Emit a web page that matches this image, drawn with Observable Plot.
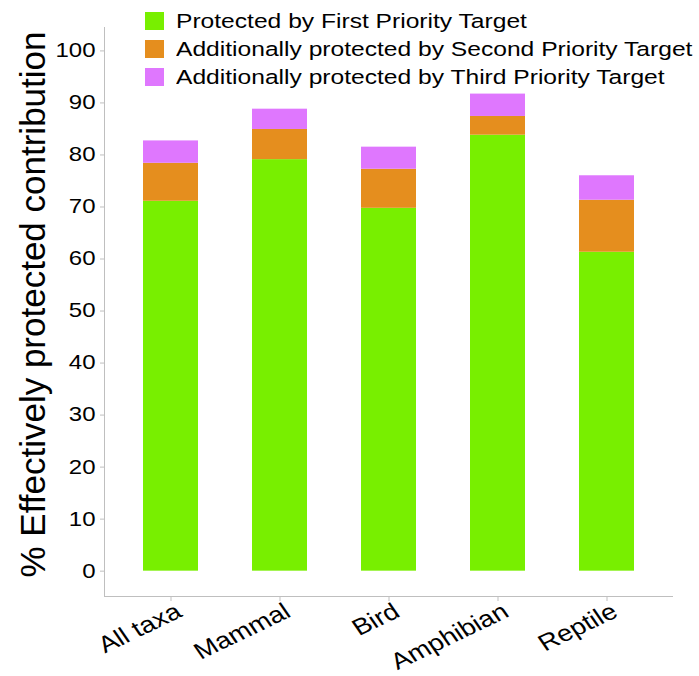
<!DOCTYPE html>
<html>
<head>
<meta charset="utf-8">
<script src="https://cdn.jsdelivr.net/npm/d3@7"></script>
<script src="https://cdn.jsdelivr.net/npm/@observablehq/plot@0.6"></script>
<style>
  body { margin: 0; background: #fff; font-family: "Liberation Sans", Arial, sans-serif; }
  #wrap { position: relative; width: 699px; height: 676px; }
  #legend { position: absolute; left: 145px; top: 7px; font-size: 20.5px; color: #000; }
  .item { display: flex; align-items: center; height: 28px; white-space: nowrap; }
  .sw { width: 19px; height: 18px; margin-right: 12px; flex: none; }
  .lab { display: inline-block; transform: scaleX(1.2); transform-origin: 0 50%; }
  #ytitle { position: absolute; left: 32px; top: 304px; width: 600px; height: 35px; line-height: 35px;
            margin-left: -300px; margin-top: -17.5px; text-align: center; font-size: 35px; color: #000;
            transform: rotate(-90deg); white-space: nowrap; }
</style>
</head>
<body>
<div id="wrap"><div id="chart"></div><div id="legend"></div><div id="ytitle"></div></div>
<script>
const taxa = ["All taxa", "Mammal", "Bird", "Amphibian", "Reptile"];
const seriesNames = [
  "Protected by First Priority Target",
  "Additionally protected by Second Priority Target",
  "Additionally protected by Third Priority Target"
];
const firstPriority  = [71.1, 79.1, 69.75, 83.8, 61.3];
const secondPriority = [7.3, 5.8, 7.5, 3.6, 10.0];
const thirdPriority  = [4.3, 3.9, 4.25, 4.3, 4.7];
const seriesColors = ["#78EF00", "#E58E1E", "#DF77FE"];
const yTicks = [0, 10, 20, 30, 40, 50, 60, 70, 80, 90, 100];
const yTitle = "% Effectively protected contribution";

const seriesValues = [firstPriority, secondPriority, thirdPriority];
const data = [];
seriesNames.forEach((s, si) => {
  taxa.forEach((t, ti) => data.push({ taxon: t, series: s, value: seriesValues[si][ti] }));
});

const axisGray = "#bfbfbf";
const chart = Plot.plot({
  width: 699,
  height: 676,
  marginLeft: 104,
  marginRight: 27,
  marginTop: 27,
  marginBottom: 80,
  style: { fontFamily: "'Liberation Sans', Arial, sans-serif", background: "#fff" },
  x: { domain: taxa, paddingInner: 0.5, paddingOuter: 0.353, label: null },
  y: { domain: [-4.87, 104.5], label: null },
  color: { domain: seriesNames, range: seriesColors },
  marks: [
    Plot.barY(data, { x: "taxon", y: "value", fill: "series" }),
    Plot.frame({ anchor: "left", stroke: axisGray }),
    Plot.frame({ anchor: "bottom", stroke: axisGray }),
    Plot.axisY({ ticks: yTicks, tickSize: 4, tickPadding: 5, stroke: axisGray, fill: "#000", fontSize: 20, label: null }),
    Plot.axisX({ tickSize: 5, text: null, stroke: axisGray, label: null }),
    Plot.axisX({ tickSize: 0, tickPadding: 13, dx: 8, tickRotate: -30, fill: "#000", fontSize: 23, label: null })
  ]
});
// the reference text is stretched horizontally; mimic with a screen-space x scale
d3.select(chart).selectAll("text").each(function () {
  const t = this.getAttribute("transform");
  if (t && /^translate\([^)]*\)/.test(t)) {
    this.setAttribute("transform", t.replace(/^(translate\([^)]*\))/, "$1 scale(1.2,1)"));
  }
});
document.getElementById("chart").appendChild(chart);
document.getElementById("ytitle").textContent = yTitle;

const legend = document.getElementById("legend");
seriesNames.forEach((s, i) => {
  const item = document.createElement("div");
  item.className = "item";
  const sw = document.createElement("span");
  sw.className = "sw";
  sw.style.background = seriesColors[i];
  const lab = document.createElement("span");
  lab.className = "lab";
  lab.textContent = s;
  item.appendChild(sw);
  item.appendChild(lab);
  legend.appendChild(item);
});
</script>
</body>
</html>
